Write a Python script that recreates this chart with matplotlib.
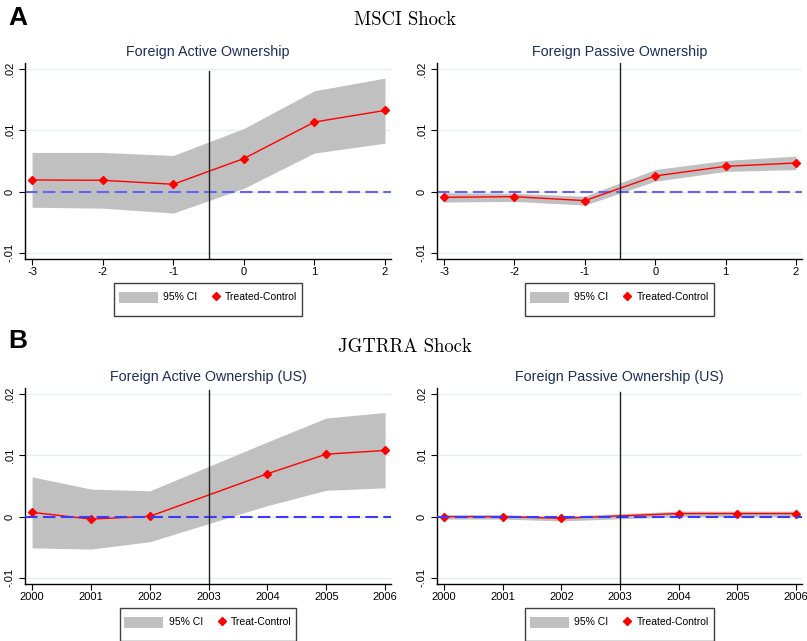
import numpy as np
import matplotlib
matplotlib.use("Agg")
import matplotlib.pyplot as plt
from matplotlib.lines import Line2D
from matplotlib.patches import Patch, Rectangle
from matplotlib.transforms import IdentityTransform
from matplotlib.legend_handler import HandlerLine2D, HandlerPatch

plt.rcParams['font.family'] = ['Liberation Sans', 'DejaVu Sans']

# MSCI shock, event time
event_t = [-3, -2, -1, 0, 1, 2]
msci_active = [0.0019, 0.00185, 0.0012, 0.0054, 0.01136, 0.01326]
msci_active_hi = [0.0064, 0.0064, 0.0059, 0.0103, 0.01647, 0.01853]
msci_active_lo = [-0.00255, -0.0027, -0.0035, 0.00054, 0.0063, 0.0079]

msci_passive = [-0.00093, -0.00082, -0.00147, 0.00256, 0.00413, 0.00468]
msci_passive_hi = [-0.0002, -0.00027, -0.00076, 0.0036, 0.0051, 0.0058]
msci_passive_lo = [-0.0017, -0.0016, -0.0022, 0.0017, 0.0033, 0.0036]

# JGTRRA shock, years (2003 omitted)
years = [2000, 2001, 2002, 2004, 2005, 2006]
jg_active = [0.0007, -0.0004, 0.00005, 0.0070, 0.0102, 0.0108]
jg_active_hi = [0.0065, 0.0045, 0.0042, 0.0122, 0.0161, 0.0170]
jg_active_lo = [-0.0051, -0.0053, -0.0041, 0.0018, 0.0043, 0.0047]

jg_passive = [0.0, 0.0, -0.00027, 0.0005, 0.0005, 0.0005]
jg_passive_hi = [0.0003, 0.0003, 0.00005, 0.0009, 0.0009, 0.0009]
jg_passive_lo = [-0.0004, -0.0004, -0.0007, 0.0000, 0.0000, 0.0000]

yticks = [-0.01, 0, 0.01, 0.02]
ytick_labels = ['-.01', '0', '.01', '.02']
year_ticks = [2000, 2001, 2002, 2003, 2004, 2005, 2006]

W, H = 807, 641
title_col = '#1c2d5c'


class MarkerAtRight(HandlerLine2D):
    # put the diamond at the right end of the handle box, close to the text
    def create_artists(self, legend, orig_handle, xdescent, ydescent,
                       width, height, fontsize, trans):
        m = Line2D([-xdescent + width - 3], [(height - ydescent) / 2 - 1.5],
                   marker='D', color='red', markersize=4.2, linestyle='none')
        m.set_transform(trans)
        return [m]


def flat_patch(legend, orig_handle, xdescent, ydescent, width, height, fontsize):
    # short grey bar, not the whole (tall) handle box
    h = 1.05 * fontsize
    return Rectangle((-xdescent, (height - ydescent) / 2 - h / 2 - 2.5), width, h)


def box(l, t, r, b):
    return [l / W, 1 - b / H, (r - l) / W, (b - t) / H]


def panel(rect, x, y, lo, hi, title, label, xlim, xticks, vline, vtop, zero_col, zero_on_top):
    ax = fig.add_axes(rect)
    for g in yticks:
        ax.axhline(g, color='#e6eeee', lw=1.0, zorder=0)
    ax.fill_between(x, lo, hi, color='#c0c0c0', lw=0, zorder=1)
    ax.axhline(0, color=zero_col, lw=1.5, dashes=(6, 2.6), zorder=4 if zero_on_top else 2)
    ax.plot(x, y, color='red', lw=1.0, marker='D', markersize=4.5, zorder=3)
    ax.axvline(vline, ymax=vtop, color='#202020', lw=1.0, zorder=5)
    ax.set_xlim(*xlim)
    ax.set_ylim(-0.011, 0.021)
    ax.set_xticks(xticks)
    ax.set_xticklabels([str(v) for v in xticks])
    ax.set_yticks(yticks)
    ax.set_yticklabels(ytick_labels, rotation=90, va='center')
    ax.tick_params(axis='both', labelsize=8, length=4, width=0.8, direction='out')
    ax.tick_params(axis='y', pad=3.5)
    ax.tick_params(axis='x', pad=2)
    ax.spines['top'].set_visible(False)
    ax.spines['right'].set_visible(False)
    ax.spines['left'].set_linewidth(1.0)
    ax.spines['bottom'].set_linewidth(1.0)
    ax.text(0.5, 1 + 11 / 196, title, transform=ax.transAxes, ha='center', va='center',
            fontsize=10.3, color=title_col)
    handles = [Patch(facecolor='#c0c0c0', edgecolor='none'),
               Line2D([], [], marker='D', color='red', linestyle='none')]
    leg = ax.legend(handles, ['95% CI', label], loc='upper center',
                    bbox_to_anchor=(0.5, -24 / 196), borderaxespad=0, ncol=2, fontsize=7.5,
                    handlelength=3.75, handleheight=2.3, handletextpad=0.5,
                    columnspacing=-1.55, borderpad=0.45, fancybox=False,
                    handler_map={Line2D: MarkerAtRight(),
                                 Patch: HandlerPatch(patch_func=flat_patch)})
    return leg


fig = plt.figure(figsize=(W / 100, H / 100), dpi=100)

ev_lim = (-3.1, 2.085)
yr_lim = (1999.88, 2006.1)

legends = [
    panel(box(25, 63, 391, 259), event_t, msci_active, msci_active_lo, msci_active_hi,
          'Foreign Active Ownership', 'Treated-Control', ev_lim, event_t, -0.5, 0.96,
          '#6464f0', False),
    panel(box(437, 63, 802, 259), event_t, msci_passive, msci_passive_lo, msci_passive_hi,
          'Foreign Passive Ownership', 'Treated-Control', ev_lim, event_t, -0.5, 1.0,
          '#6464f0', False),
    panel(box(25, 388, 391, 584), years, jg_active, jg_active_lo, jg_active_hi,
          'Foreign Active Ownership (US)', 'Treat-Control', yr_lim, year_ticks, 2003, 0.99,
          '#3a3aff', True),
    panel(box(437, 388, 802, 584), years, jg_passive, jg_passive_lo, jg_passive_hi,
          'Foreign Passive Ownership (US)', 'Treated-Control', yr_lim, year_ticks, 2003, 0.98,
          '#3a3aff', True),
]

fig.text(8 / W, 1 - 18 / H, 'A', fontsize=19, fontweight='bold', ha='left', va='center')
fig.text(8 / W, 1 - 341 / H, 'B', fontsize=19, fontweight='bold', ha='left', va='center')
fig.text(405 / W, 1 - 20 / H, 'MSCI Shock', fontsize=13.5, family='cmr10', ha='center', va='center')
fig.text(405 / W, 1 - 347 / H, 'JGTRRA Shock', fontsize=13.5, family='cmr10', ha='center', va='center')

# Stata-like legend frame: more room below the entries than above
fig.canvas.draw()
for leg in legends:
    bb = leg.get_frame().get_window_extent()
    leg.get_frame().set_visible(False)
    fig.add_artist(Rectangle((bb.x0, bb.y0 - 5), bb.width, bb.height + 5,
                             transform=IdentityTransform(), fill=False,
                             edgecolor='#404040', lw=1.0))

fig.savefig('out.png', dpi=100)
